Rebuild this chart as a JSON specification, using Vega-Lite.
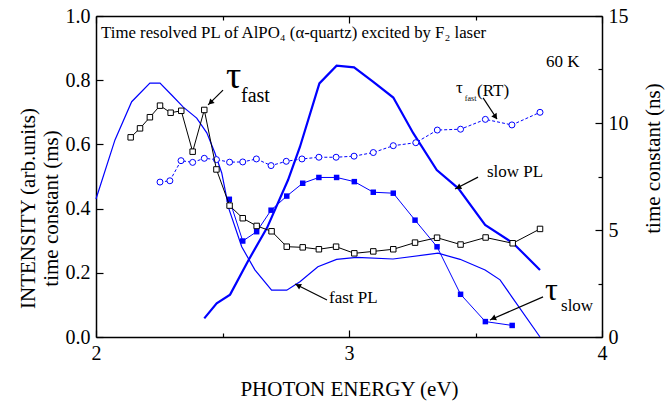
{
  "$schema": "https://vega.github.io/schema/vega-lite/v6.json",
  "width": 506,
  "height": 321,
  "autosize": "none",
  "padding": {"left": 96, "top": 16, "right": 64, "bottom": 66},
  "background": "white",
  "config": {
    "view": {"stroke": null},
    "font": "Liberation Serif",
    "axis": {
      "domainColor": "black", "domainWidth": 1.5, "tickColor": "black", "tickWidth": 1.2,
      "labelFont": "Liberation Serif", "labelFontSize": 20, "labelColor": "black",
      "titleFont": "Liberation Serif", "titleFontSize": 21, "titleFontWeight": "normal", "titleColor": "black",
      "grid": false, "labelFlush": false, "labelOverlap": false
    }
  },
  "datasets": {
    "fastPL": [
      {"x": 2.0, "y": 0.43}, {"x": 2.075, "y": 0.614}, {"x": 2.141, "y": 0.733}, {"x": 2.213, "y": 0.791},
      {"x": 2.253, "y": 0.791}, {"x": 2.299, "y": 0.754}, {"x": 2.344, "y": 0.717}, {"x": 2.398, "y": 0.682},
      {"x": 2.438, "y": 0.636}, {"x": 2.47, "y": 0.573}, {"x": 2.497, "y": 0.511}, {"x": 2.525, "y": 0.4},
      {"x": 2.576, "y": 0.281}, {"x": 2.628, "y": 0.209}, {"x": 2.694, "y": 0.146}, {"x": 2.754, "y": 0.146},
      {"x": 2.806, "y": 0.172}, {"x": 2.877, "y": 0.219}, {"x": 2.951, "y": 0.242}, {"x": 3.03, "y": 0.248},
      {"x": 3.174, "y": 0.243}, {"x": 3.352, "y": 0.261}, {"x": 3.439, "y": 0.242}, {"x": 3.538, "y": 0.209},
      {"x": 3.597, "y": 0.178}, {"x": 3.643, "y": 0.126}, {"x": 3.755, "y": 0.0}
    ],
    "slowPL": [
      {"x": 2.428, "y": 0.058}, {"x": 2.477, "y": 0.105}, {"x": 2.53, "y": 0.132}, {"x": 2.601, "y": 0.237},
      {"x": 2.676, "y": 0.34}, {"x": 2.759, "y": 0.489}, {"x": 2.806, "y": 0.592}, {"x": 2.883, "y": 0.79},
      {"x": 2.951, "y": 0.845}, {"x": 3.02, "y": 0.84}, {"x": 3.096, "y": 0.795}, {"x": 3.175, "y": 0.746},
      {"x": 3.254, "y": 0.635}, {"x": 3.347, "y": 0.52}, {"x": 3.432, "y": 0.463}, {"x": 3.538, "y": 0.349},
      {"x": 3.649, "y": 0.292}, {"x": 3.755, "y": 0.209}
    ],
    "tauSlow": [
      {"x": 2.527, "y": 0.429}, {"x": 2.58, "y": 0.299}, {"x": 2.635, "y": 0.328}, {"x": 2.692, "y": 0.395},
      {"x": 2.754, "y": 0.439}, {"x": 2.817, "y": 0.479}, {"x": 2.881, "y": 0.497}, {"x": 2.951, "y": 0.497},
      {"x": 3.021, "y": 0.484}, {"x": 3.096, "y": 0.451}, {"x": 3.175, "y": 0.448}, {"x": 3.261, "y": 0.364},
      {"x": 3.348, "y": 0.281}, {"x": 3.441, "y": 0.133}, {"x": 3.539, "y": 0.048}, {"x": 3.645, "y": 0.036}
    ],
    "tauFast": [
      {"x": 2.137, "y": 9.33}, {"x": 2.174, "y": 9.75}, {"x": 2.213, "y": 10.27}, {"x": 2.253, "y": 10.81},
      {"x": 2.295, "y": 10.48}, {"x": 2.337, "y": 10.57}, {"x": 2.382, "y": 8.66}, {"x": 2.428, "y": 10.61},
      {"x": 2.476, "y": 7.83}, {"x": 2.528, "y": 6.14}, {"x": 2.58, "y": 5.55}, {"x": 2.635, "y": 5.19},
      {"x": 2.694, "y": 4.94}, {"x": 2.754, "y": 4.22}, {"x": 2.817, "y": 4.19}, {"x": 2.881, "y": 4.1},
      {"x": 2.949, "y": 4.22}, {"x": 3.021, "y": 3.91}, {"x": 3.096, "y": 4.0}, {"x": 3.175, "y": 4.1},
      {"x": 3.261, "y": 4.41}, {"x": 3.348, "y": 4.64}, {"x": 3.441, "y": 4.32}, {"x": 3.54, "y": 4.65},
      {"x": 3.647, "y": 4.38}, {"x": 3.755, "y": 5.05}
    ],
    "tauFastRT": [
      {"x": 2.253, "y": 7.24}, {"x": 2.292, "y": 7.3}, {"x": 2.336, "y": 8.24}, {"x": 2.382, "y": 8.16},
      {"x": 2.428, "y": 8.35}, {"x": 2.476, "y": 8.29}, {"x": 2.528, "y": 8.17}, {"x": 2.58, "y": 8.18},
      {"x": 2.634, "y": 8.32}, {"x": 2.692, "y": 8.01}, {"x": 2.752, "y": 8.21}, {"x": 2.814, "y": 8.32},
      {"x": 2.881, "y": 8.4}, {"x": 2.949, "y": 8.4}, {"x": 3.02, "y": 8.45}, {"x": 3.096, "y": 8.62},
      {"x": 3.175, "y": 8.94}, {"x": 3.264, "y": 9.08}, {"x": 3.349, "y": 9.67}, {"x": 3.441, "y": 9.71},
      {"x": 3.539, "y": 10.17}, {"x": 3.644, "y": 9.91}, {"x": 3.755, "y": 10.5}
    ],
    "notes": [
      {"x": 2.02, "y": 0.931, "text": "Time resolved PL of AlPO₄ (α-quartz) excited by F₂ laser", "role": "title"},
      {"x": 3.779, "y": 0.841, "text": "60 K", "role": "label"},
      {"x": 2.514, "y": 0.776, "text": "τ", "role": "tauFast"},
      {"x": 2.573, "y": 0.732, "text": "fast", "role": "subFast"},
      {"x": 3.423, "y": 0.76, "text": "τ", "role": "label"},
      {"x": 3.458, "y": 0.735, "text": "fast", "role": "subSmall"},
      {"x": 3.506, "y": 0.751, "text": "(RT)", "role": "label"},
      {"x": 3.545, "y": 0.498, "text": "slow PL", "role": "label"},
      {"x": 2.921, "y": 0.106, "text": "fast PL", "role": "label"},
      {"x": 3.775, "y": 0.115, "text": "τ", "role": "tauSlow"},
      {"x": 3.838, "y": 0.081, "text": "slow", "role": "subSlow"}
    ],
    "arrows": [
      {"x": 2.502, "y": 0.769, "x2": 2.443, "y2": 0.723},
      {"x": 3.53, "y": 0.745, "x2": 3.585, "y2": 0.679},
      {"x": 3.51, "y": 0.498, "x2": 3.419, "y2": 0.461},
      {"x": 2.913, "y": 0.115, "x2": 2.787, "y2": 0.165},
      {"x": 3.767, "y": 0.125, "x2": 3.557, "y2": 0.053}
    ],
    "heads": [
      {"x": 2.455, "y": 0.732, "angle": 225},
      {"x": 3.577, "y": 0.688, "angle": 146},
      {"x": 3.435, "y": 0.467, "angle": 242},
      {"x": 2.802, "y": 0.159, "angle": 297},
      {"x": 3.573, "y": 0.059, "angle": 246}
    ]
  },
  "layer": [
    {
      "layer": [
        {
          "data": {"name": "fastPL"},
          "mark": {"type": "line", "color": "#0000ff", "strokeWidth": 1.2},
          "encoding": {
            "x": {"field": "x", "type": "quantitative", "scale": {"domain": [2, 4], "nice": false},
              "axis": {"orient": "bottom", "values": [2, 2.5, 3, 3.5, 4], "labelOverlap": false,
                "labelExpr": "(datum.value == 2 || datum.value == 3 || datum.value == 4) ? format(datum.value, 'd') : ''",
                "tickSize": {"condition": {"test": "datum.value % 1 == 0", "value": -7}, "value": -4},
                "labelPadding": 13, "title": "PHOTON ENERGY (eV)", "titlePadding": 12}},
            "y": {"field": "y", "type": "quantitative", "scale": {"domain": [0, 1], "nice": false},
              "axis": {"orient": "left", "values": [0, 0.1, 0.2, 0.3, 0.4, 0.5, 0.6, 0.7, 0.8, 0.9, 1.0], "format": ".1f",
                "labelExpr": "round(datum.value*10) % 2 == 0 ? datum.label : ''",
                "tickSize": {"condition": {"test": "round(datum.value*10) % 2 == 0", "value": -7}, "value": -4},
                "labelPadding": 13, "title": ["INTENSITY (arb.units)", "time constant (ms)"], "titlePadding": 4, "titleY": 192}}
          }
        },
        {
          "data": {"name": "slowPL"},
          "mark": {"type": "line", "color": "#0000ff", "strokeWidth": 2.2},
          "encoding": {"x": {"field": "x", "type": "quantitative"}, "y": {"field": "y", "type": "quantitative"}}
        },
        {
          "data": {"name": "tauSlow"},
          "mark": {"type": "line", "color": "#0000ff", "strokeWidth": 1},
          "encoding": {"x": {"field": "x", "type": "quantitative"}, "y": {"field": "y", "type": "quantitative"}}
        },
        {
          "data": {"name": "tauSlow"},
          "mark": {"type": "point", "shape": "square", "filled": true, "color": "#0000ff", "size": 30, "opacity": 1},
          "encoding": {"x": {"field": "x", "type": "quantitative"}, "y": {"field": "y", "type": "quantitative"}}
        },
        {
          "data": {"name": "arrows"},
          "mark": {"type": "rule", "color": "black", "strokeWidth": 1.2},
          "encoding": {"x": {"field": "x", "type": "quantitative"}, "y": {"field": "y", "type": "quantitative"},
            "x2": {"field": "x2"}, "y2": {"field": "y2"}}
        },
        {
          "data": {"name": "heads"},
          "mark": {"type": "point", "shape": "triangle", "filled": true, "color": "black", "size": 40, "opacity": 1},
          "encoding": {"x": {"field": "x", "type": "quantitative"}, "y": {"field": "y", "type": "quantitative"},
            "angle": {"field": "angle", "type": "quantitative", "scale": null}}
        },
        {
          "data": {"name": "notes"},
          "transform": [{"filter": "datum.role == 'title'"}],
          "mark": {"type": "text", "align": "left", "baseline": "alphabetic", "fontSize": 16.8, "font": "Liberation Serif", "color": "black"},
          "encoding": {"x": {"field": "x", "type": "quantitative"}, "y": {"field": "y", "type": "quantitative"}, "text": {"field": "text"}}
        },
        {
          "data": {"name": "notes"},
          "transform": [{"filter": "datum.role == 'label'"}],
          "mark": {"type": "text", "align": "left", "baseline": "alphabetic", "fontSize": 17, "font": "Liberation Serif", "color": "black"},
          "encoding": {"x": {"field": "x", "type": "quantitative"}, "y": {"field": "y", "type": "quantitative"}, "text": {"field": "text"}}
        },
        {
          "data": {"name": "notes"},
          "transform": [{"filter": "datum.role == 'tauFast'"}],
          "mark": {"type": "text", "align": "left", "baseline": "alphabetic", "fontSize": 38, "font": "Liberation Serif", "color": "black"},
          "encoding": {"x": {"field": "x", "type": "quantitative"}, "y": {"field": "y", "type": "quantitative"}, "text": {"field": "text"}}
        },
        {
          "data": {"name": "notes"},
          "transform": [{"filter": "datum.role == 'tauSlow'"}],
          "mark": {"type": "text", "align": "left", "baseline": "alphabetic", "fontSize": 32, "font": "Liberation Serif", "color": "black"},
          "encoding": {"x": {"field": "x", "type": "quantitative"}, "y": {"field": "y", "type": "quantitative"}, "text": {"field": "text"}}
        },
        {
          "data": {"name": "notes"},
          "transform": [{"filter": "datum.role == 'subFast'"}],
          "mark": {"type": "text", "align": "left", "baseline": "alphabetic", "fontSize": 20, "font": "Liberation Serif", "color": "black"},
          "encoding": {"x": {"field": "x", "type": "quantitative"}, "y": {"field": "y", "type": "quantitative"}, "text": {"field": "text"}}
        },
        {
          "data": {"name": "notes"},
          "transform": [{"filter": "datum.role == 'subSlow'"}],
          "mark": {"type": "text", "align": "left", "baseline": "alphabetic", "fontSize": 17, "font": "Liberation Serif", "color": "black"},
          "encoding": {"x": {"field": "x", "type": "quantitative"}, "y": {"field": "y", "type": "quantitative"}, "text": {"field": "text"}}
        },
        {
          "data": {"name": "notes"},
          "transform": [{"filter": "datum.role == 'subSmall'"}],
          "mark": {"type": "text", "align": "left", "baseline": "alphabetic", "fontSize": 8, "font": "Liberation Serif", "color": "black"},
          "encoding": {"x": {"field": "x", "type": "quantitative"}, "y": {"field": "y", "type": "quantitative"}, "text": {"field": "text"}}
        }
      ]
    },
    {
      "layer": [
        {
          "data": {"name": "tauFastRT"},
          "mark": {"type": "line", "color": "#0000ff", "strokeWidth": 1, "strokeDash": [3, 2]},
          "encoding": {
            "x": {"field": "x", "type": "quantitative", "scale": {"domain": [2, 4], "nice": false},
              "axis": {"orient": "top", "values": [2, 2.5, 3, 3.5, 4], "labels": false, "title": null,
                "tickSize": {"condition": {"test": "datum.value % 1 == 0", "value": -7}, "value": -4}}},
            "y": {"field": "y", "type": "quantitative", "scale": {"domain": [0, 15], "nice": false},
              "axis": {"orient": "right", "values": [0, 2.5, 5, 7.5, 10, 12.5, 15], "format": "d",
                "labelExpr": "datum.value % 5 == 0 ? datum.label : ''",
                "tickSize": {"condition": {"test": "datum.value % 5 == 0", "value": -7}, "value": -4},
                "labelPadding": 13, "title": "time constant (ns)", "titleAngle": -90, "titleBaseline": "top", "titlePadding": 14, "titleY": 142}}
          }
        },
        {
          "data": {"name": "tauFastRT"},
          "mark": {"type": "point", "shape": "circle", "filled": true, "fill": "white", "stroke": "#0000ff", "strokeWidth": 1, "size": 36, "opacity": 1},
          "encoding": {"x": {"field": "x", "type": "quantitative"}, "y": {"field": "y", "type": "quantitative"}}
        },
        {
          "data": {"name": "tauFast"},
          "mark": {"type": "line", "color": "black", "strokeWidth": 1},
          "encoding": {"x": {"field": "x", "type": "quantitative"}, "y": {"field": "y", "type": "quantitative"}}
        },
        {
          "data": {"name": "tauFast"},
          "mark": {"type": "point", "shape": "square", "filled": true, "fill": "white", "stroke": "black", "strokeWidth": 1, "size": 30, "opacity": 1},
          "encoding": {"x": {"field": "x", "type": "quantitative"}, "y": {"field": "y", "type": "quantitative"}}
        }
      ]
    }
  ],
  "resolve": {"scale": {"y": "independent"}, "axis": {"x": "independent"}}
}
